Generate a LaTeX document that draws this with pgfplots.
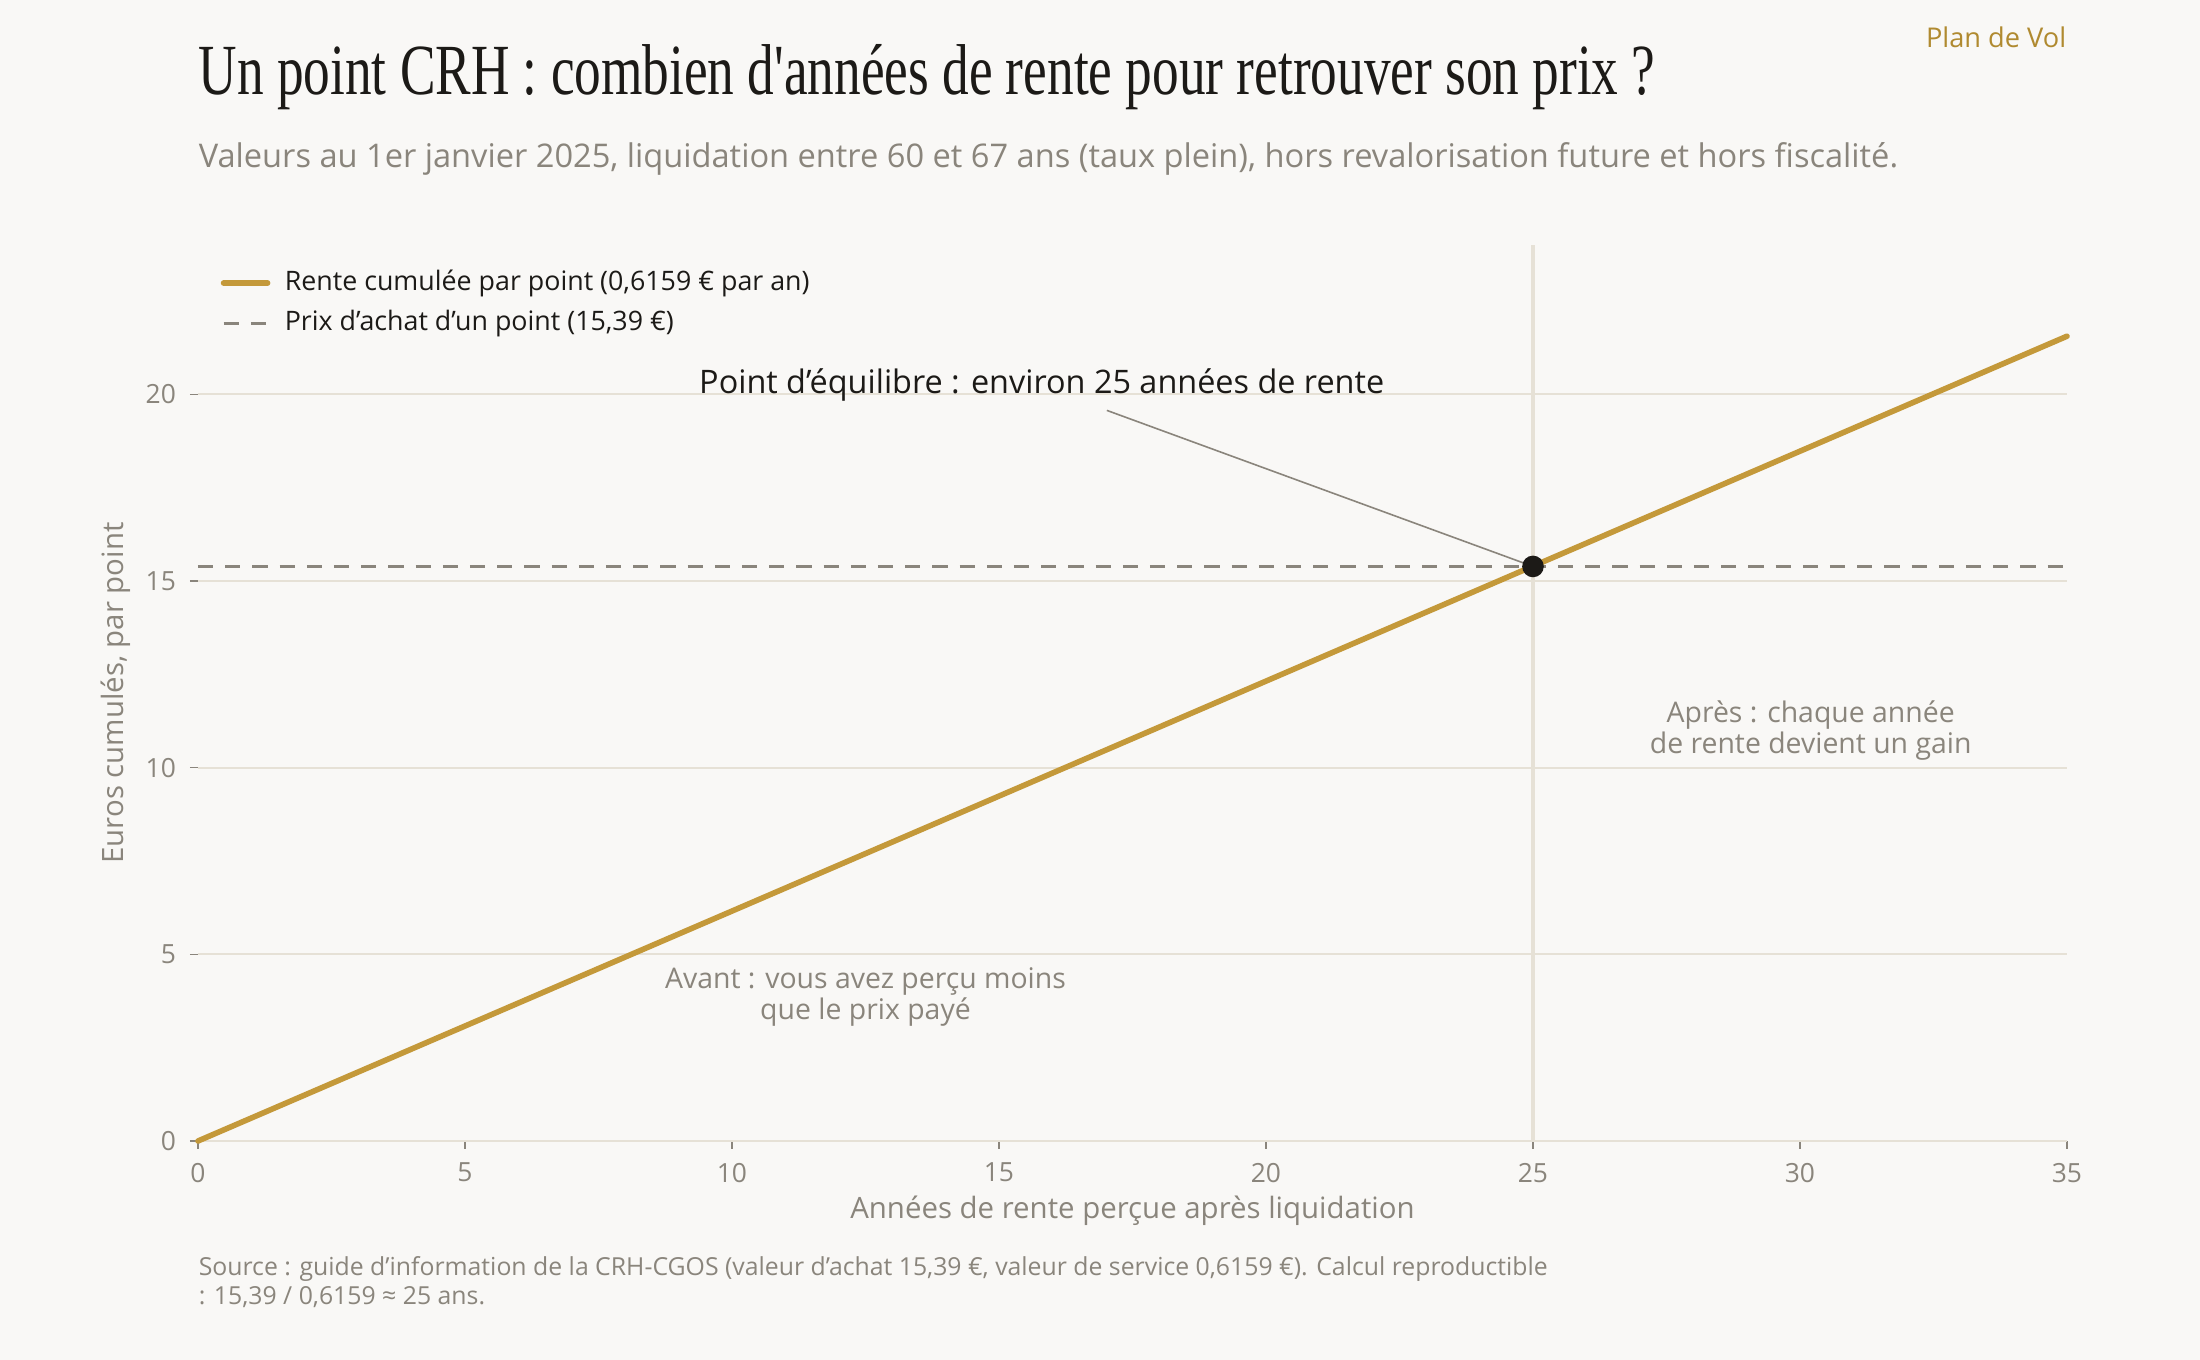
\documentclass[border=0pt]{standalone}
\usepackage{fontspec}
\setmainfont{Open Sans}
\newfontfamily\titlefont[FakeStretch=0.74]{Liberation Serif}
\usepackage{pgfplots}
\pgfplotsset{compat=1.18}
\definecolor{bg}{HTML}{F9F8F6}
\definecolor{gold}{HTML}{C4993A}
\definecolor{txtgray}{HTML}{8A857C}
\definecolor{gridc}{HTML}{E6E1D6}
\definecolor{dark}{HTML}{1C1A17}
\definecolor{brand}{HTML}{B08A30}
\begin{document}
\begin{tikzpicture}
\fill[bg] (-49.5pt,-54.75pt) rectangle (500.5pt,285.25pt);
\begin{axis}[
  at={(0,0)}, anchor=south west,
  scale only axis, width=467.25pt, height=224pt,
  xmin=0, xmax=35, ymin=0, ymax=24,
  xtick={0,5,...,35}, ytick={0,5,10,15,20},
  axis x line*=bottom, axis y line*=left,
  x axis line style={draw=gridc, line width=0.7pt, -},
  y axis line style={draw=none},
  ymajorgrids, grid style={gridc, line width=0.5pt},
  tick align=outside, major tick length=2pt,
  tick style={txtgray, line width=0.4pt},
  /pgf/number format/assume math mode=true,
  ticklabel style={font=\fontsize{6.6}{8}\selectfont, text=txtgray},
  xlabel={Années de rente perçue après liquidation},
  ylabel={Euros cumulés, par point},
  label style={font=\fontsize{7.35}{9}\selectfont, text=txtgray},
  x label style={at={(axis description cs:0.5,0)}, anchor=center, yshift=-17.5pt},
  y label style={at={(axis description cs:-0.0439,0.5)}, anchor=center},
  legend cell align=left,
  legend style={at={(axis description cs:0,1)}, anchor=north west, xshift=4.5pt, yshift=-3pt,
    draw=none, fill=none, font=\fontsize{6.7}{7.6}\selectfont, text=dark,
    row sep=-0.6pt, inner sep=1pt},
  legend image code/.code={\draw[#1] (0pt,0pt) -- (11pt,0pt); \path (12.6pt,0pt);},
  clip=false,
]
\draw[gridc, line width=0.8pt] (axis cs:25,0) -- (axis cs:25,24);
\addplot[gold, line width=1.4pt, line cap=round] coordinates {(0,0) (35,21.5565)};
\addlegendentry{Rente cumulée par point (0,6159 € par an)}
\addplot[txtgray, line width=0.75pt, dash pattern=on 3.8pt off 3pt] coordinates {(0,15.39) (35,15.39)};
\addlegendentry{Prix d'achat d'un point (15,39 €)}
\draw[txtgray, line width=0.4pt] (axis cs:17.02,19.57) -- (axis cs:25,15.39);
\addplot[only marks, mark=*, mark size=2.5pt, mark options={fill=dark, draw=dark}, forget plot] coordinates {(25,15.39)};
\node[font=\fontsize{8.1}{9}\selectfont, text=dark] at (axis cs:15.8,20.25) {Point d'équilibre : environ 25 années de rente};
\node[font=\fontsize{7.1}{7.7}\selectfont, text=txtgray, align=center] at (axis cs:30.2,11.0) {Après : chaque année\\de rente devient un gain};
\node[font=\fontsize{7.1}{7.7}\selectfont, text=txtgray, align=center] at (axis cs:12.5,3.85) {Avant : vous avez perçu moins\\que le prix payé};
\end{axis}
\node[anchor=base west, inner sep=0pt, font=\titlefont\fontsize{18}{21}\selectfont, text=dark] at (0pt,261.5pt) {Un point CRH : combien d'années de rente pour retrouver son prix ?};
\node[anchor=base west, inner sep=0pt, font=\fontsize{8.15}{9}\selectfont, text=txtgray] at (0pt,243.25pt) {Valeurs au 1er janvier 2025, liquidation entre 60 et 67 ans (taux plein), hors revalorisation future et hors fiscalité.};
\node[anchor=base east, inner sep=0pt, font=\fontsize{6.8}{8}\selectfont, text=brand] at (467.25pt,273.25pt) {Plan de Vol};
\node[anchor=base west, inner sep=0pt, font=\fontsize{6.2}{7.4}\selectfont, text=txtgray, align=left] at (0pt,-41pt) {Source : guide d'information de la CRH-CGOS (valeur d'achat 15,39 €, valeur de service 0,6159 €). Calcul reproductible\\: 15,39 / 0,6159 ≈ 25 ans.};
\end{tikzpicture}
\end{document}
